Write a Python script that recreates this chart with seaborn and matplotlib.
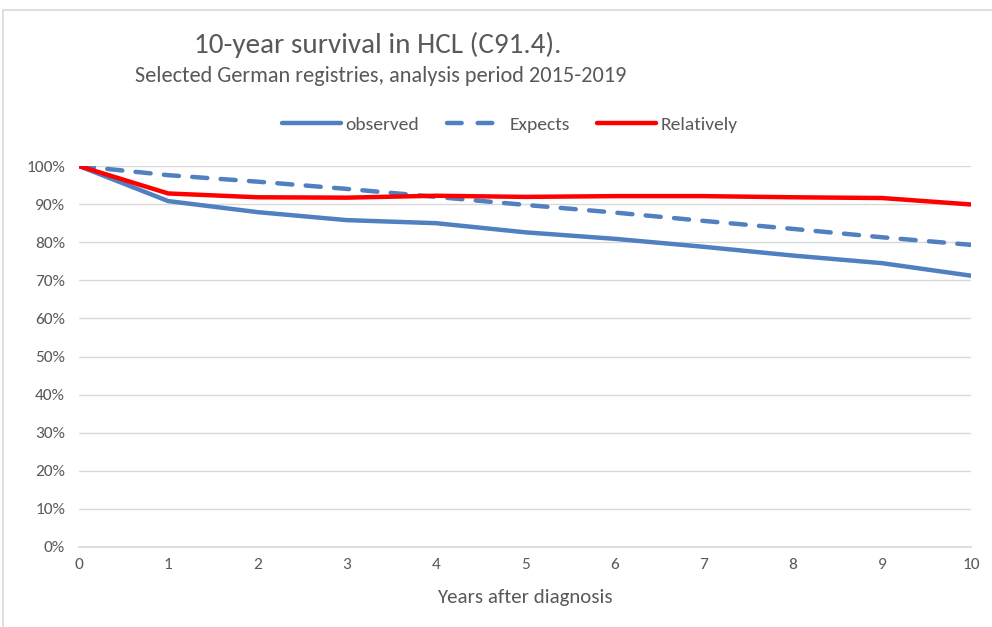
import pandas as pd
import matplotlib.pyplot as plt
import seaborn as sns
from matplotlib.patches import Rectangle
from matplotlib.ticker import PercentFormatter

years = list(range(0, 11))
observed = [100, 90.8, 87.9, 85.8, 85.0, 82.6, 80.9, 78.8, 76.5, 74.5, 71.2]
expects = [100, 97.6, 95.9, 94.0, 91.9, 89.8, 87.8, 85.6, 83.5, 81.3, 79.3]
relatively = [100, 92.8, 91.8, 91.7, 92.2, 91.9, 92.1, 92.1, 91.8, 91.6, 89.9]

series_names = ['observed', 'Expects', 'Relatively']

df = pd.DataFrame({
    'year': years * 3,
    'value': observed + expects + relatively,
    'series': [n for n in series_names for _ in years],
})

sns.set_theme(style='white')
plt.rcParams['font.family'] = ['Carlito', 'Liberation Sans Narrow', 'DejaVu Sans']

fig = plt.figure(figsize=(9.92, 6.27), dpi=100)
ax = fig.add_axes([0.0796, 0.1276, 0.8996, 0.6076])

# outer chart border (Excel style)
fig.patches.append(Rectangle((0.003, -0.05), 1.1, 1.034, transform=fig.transFigure,
                             fill=False, edgecolor='#d9d9d9', linewidth=1.2))

blue = '#5080c0'
sns.lineplot(data=df, x='year', y='value', hue='series', style='series',
             palette={'observed': blue, 'Expects': blue, 'Relatively': '#ff0000'},
             dashes={'observed': '', 'Expects': (3.4, 3.0), 'Relatively': ''},
             linewidth=3.2, ax=ax, legend=True)
for line in ax.get_lines():
    line.set_dash_capstyle('round')

ax.set_xlim(0, 10)
ax.set_ylim(0, 100)
ax.set_xticks(years)
ax.set_yticks(range(0, 101, 10))
ax.yaxis.set_major_formatter(PercentFormatter(decimals=0))
ax.grid(axis='y', color='#d9d9d9', linewidth=1)
for s in ['top', 'right', 'left']:
    ax.spines[s].set_visible(False)
ax.spines['bottom'].set_color('#d9d9d9')
ax.spines['bottom'].set_linewidth(1.2)
ax.tick_params(axis='x', direction='inout', length=8, color='#d9d9d9',
               labelsize=12.5, labelcolor='#595959', pad=4)
ax.tick_params(axis='y', length=0, labelsize=12.5, labelcolor='#595959', pad=10)
ax.set_xlabel('Years after diagnosis', fontsize=15, color='#595959', labelpad=12)
ax.set_ylabel('')

handles, labels = ax.get_legend_handles_labels()
for h in handles:
    h.set_dash_capstyle('round')
# legend swatch for the dashed series: two dashes then blank, as in Excel
handles[1].set_dashes((3.3, 3.6))
ax.legend(handles, labels, loc='center', bbox_to_anchor=(0.483, 1.108), ncol=3,
          frameon=False, fontsize=14, handlelength=3.0, handletextpad=0.25,
          columnspacing=1.4, labelcolor='#595959')

fig.text(0.381, 0.928, '10-year survival in HCL (C91.4).', ha='center', va='center',
         fontsize=21, color='#595959')
fig.text(0.384, 0.879, 'Selected German registries, analysis period 2015-2019',
         ha='center', va='center', fontsize=16, color='#595959')

fig.savefig('out.png', dpi=100)
